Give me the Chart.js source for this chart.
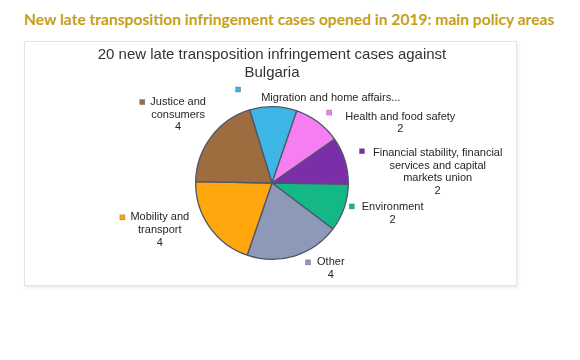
<!DOCTYPE html>
<html>
<head>
<meta charset="utf-8">
<script src="https://cdn.jsdelivr.net/npm/chart.js@4.4.1/dist/chart.umd.min.js"></script>
<style>
    body { margin: 0; background: #fff; width: 580px; height: 360px; overflow: hidden; }
    .heading {
        position: absolute; left: 24px; top: 10px;
        font-family: Lato, sans-serif; font-weight: bold; font-size: 15.6px;
        color: #c4a017; white-space: nowrap;
    }
    .box {
        position: absolute; left: 24px; top: 41px; width: 491px; height: 243px;
        border: 1px solid #e4e4e4; box-shadow: 1px 2px 3px rgba(0,0,0,0.08);
    }
</style>
</head>
<body>
<div class="heading">New late transposition infringement cases opened in 2019: main policy areas</div>
<div class="box"><canvas id="myChart" width="491" height="243"></canvas></div>
<script>
// policy areas, in the order the slices go round the pie
const labels = [
    'Migration and home affairs',
    'Health and food safety',
    'Financial stability, financial services and capital markets union',
    'Environment',
    'Other',
    'Mobility and transport',
    'Justice and consumers'
];
// number of cases per area
const cases = [2, 2, 2, 2, 4, 4, 4];
// text written next to each slice
const labelLines = [
    ['Migration and home affairs...'],
    ['Health and food safety', '2'],
    ['Financial stability, financial', 'services and capital', 'markets union', '2'],
    ['Environment', '2'],
    ['Other', '4'],
    ['Mobility and', 'transport', '4'],
    ['Justice and', 'consumers', '4']
];
const colors = ['#3db6e6', '#f57ff2', '#7a2fa8', '#14b887', '#8e98b8', '#ffa70c', '#9e6d3f'];

// where each label sits, relative to the pie centre, in radius units
// [text centre x, first line y, marker x from line start, marker y]
const labelLayout = [
    [0.77, -1.12, -23, -8],
    [1.68, -0.87, -16, -4],
    [2.17, -0.39, -11, -2],
    [1.58, 0.32, -10, -1],
    [0.77, 1.04, -9, 0],
    [-1.47, 0.45, -8, 0],
    [-1.23, -1.06, -8, 0]
];

const sliceLabels = {
    id: 'sliceLabels',
    afterDatasetsDraw(chart) {
        const ctx = chart.ctx;
        const arcs = chart.getDatasetMeta(0).data;
        const cx = arcs[0].x, cy = arcs[0].y, r = arcs[0].outerRadius;
        ctx.save();
        ctx.font = '11px "Liberation Sans", Arial, sans-serif';
        ctx.textBaseline = 'middle';
        ctx.textAlign = 'center';
        for (let i = 0; i < arcs.length; i++) {
            const lay = labelLayout[i];
            const tx = cx + lay[0] * r;
            const ty = cy + lay[1] * r;
            const lines = labelLines[i];
            ctx.fillStyle = '#262626';
            for (let j = 0; j < lines.length; j++) {
                ctx.fillText(lines[j], tx, ty + j * 12.6);
            }
            //little legend key left of first line
            const w = ctx.measureText(lines[0]).width;
            const mx = tx - w / 2 + lay[2];
            const my = ty + lay[3];
            ctx.fillStyle = colors[i];
            ctx.fillRect(mx - 2.5, my - 2.5, 5, 5);
            ctx.strokeStyle = 'rgba(90,90,100,0.6)';
            ctx.lineWidth = 0.6;
            ctx.strokeRect(mx - 2.5, my - 2.5, 5, 5);
        }
        ctx.restore();
    }
};

const data = {
    labels: labels,
    datasets: [{
        data: cases,
        backgroundColor: colors,
        borderColor: '#50556a',
        borderWidth: 1.3
    }]
};

const config = {
    type: 'pie',
    data,
    options: {
        responsive: false,
        animation: false,
        rotation: -17,
        layout: { padding: { left: 3, right: 0, top: 0, bottom: 25 } },
        plugins: {
            legend: { display: false },
            tooltip: { enabled: false },
            title: {
                display: true,
                text: ['20 new late transposition infringement cases against', 'Bulgaria'],
                color: '#333',
                font: { family: '"Liberation Sans", Arial, sans-serif', size: 15, weight: 'normal', lineHeight: 1.2 },
                padding: { top: 4, bottom: 24 }
            }
        }
    },
    plugins: [sliceLabels]
};

let myChart = new Chart(document.getElementById('myChart'), config);
</script>
</body>
</html>
